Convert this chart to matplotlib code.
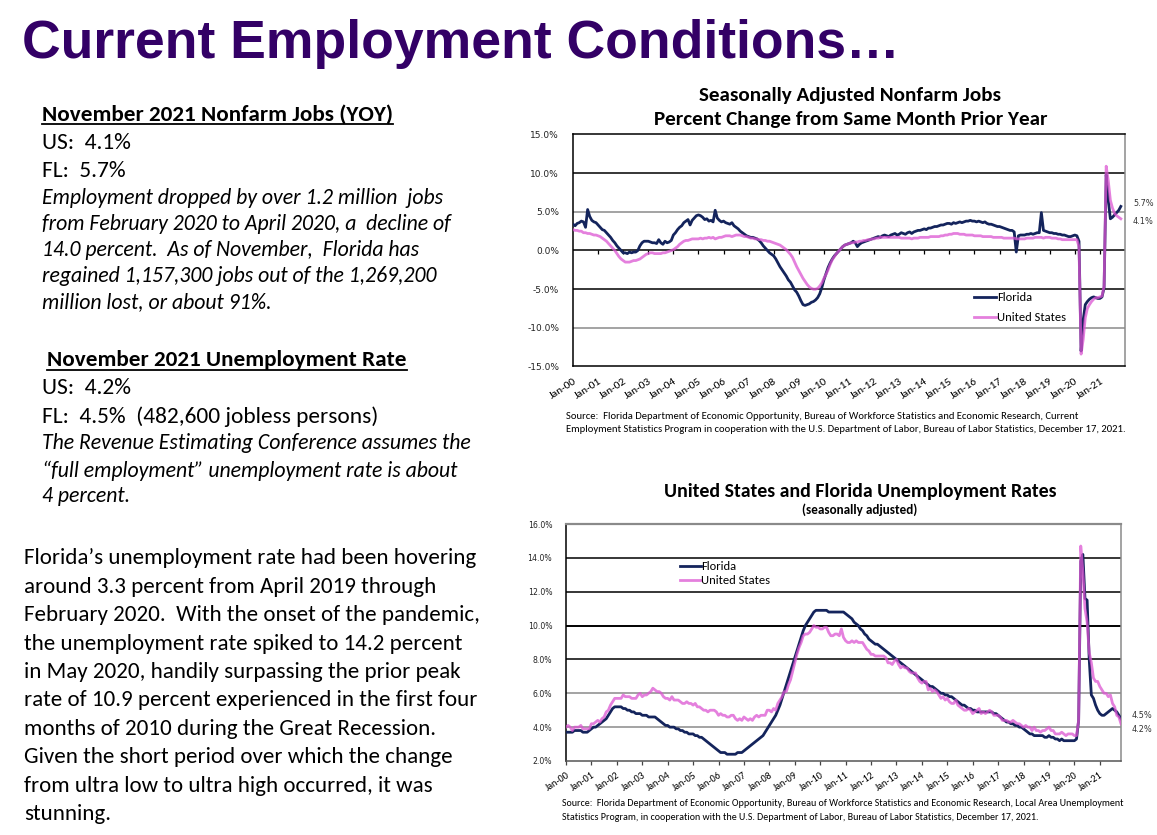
import numpy as np
import matplotlib
matplotlib.use("Agg")
import matplotlib.pyplot as plt
from matplotlib.lines import Line2D
from matplotlib import font_manager as fm

# ---------------- data ----------------
tick_labels = ["Jan-%02d" % y for y in range(0, 22)]

fl_jobs = [
    3.4, 3.2, 3.5, 3.6, 3.8, 3.7, 3.0, 5.3, 4.4, 3.9, 3.7, 3.6,      # 2000
    3.3, 3.0, 2.7, 2.6, 2.3, 2.0, 1.7, 1.3, 1.0, 0.6, 0.3, 0.0,      # 2001
    -0.3, -0.3, -0.4, -0.2, -0.3, -0.2, -0.2, 0.0, 0.6, 1.0, 1.2, 1.2,  # 2002
    1.2, 1.1, 1.0, 1.0, 0.9, 1.4, 1.0, 0.8, 1.2, 1.0, 1.1, 1.3,      # 2003
    2.0, 2.3, 2.7, 3.0, 3.2, 3.6, 3.8, 4.0, 3.3, 3.9, 4.2, 4.5,      # 2004
    4.6, 4.5, 4.3, 4.0, 4.1, 3.8, 3.9, 3.7, 5.2, 4.2, 3.9, 3.7,      # 2005
    3.8, 3.6, 3.5, 3.4, 3.6, 3.2, 3.0, 2.8, 2.5, 2.3, 2.1, 1.9,      # 2006
    1.8, 1.7, 1.7, 1.6, 1.5, 1.3, 1.0, 0.6, 0.3, 0.0, -0.3, -0.5,    # 2007
    -0.7, -1.1, -1.6, -2.1, -2.5, -2.9, -3.3, -3.8, -4.1, -4.6, -5.1, -5.4,  # 2008
    -5.9, -6.5, -7.0, -7.1, -7.0, -6.9, -6.7, -6.6, -6.4, -6.1, -5.6, -4.8,  # 2009
    -3.8, -3.0, -2.2, -1.6, -1.1, -0.7, -0.4, -0.1, 0.2, 0.5, 0.7, 0.8,      # 2010
    0.9, 1.0, 1.2, 1.0, 0.5, 0.8, 1.0, 1.1, 1.2, 1.3, 1.4, 1.5,      # 2011
    1.6, 1.7, 1.8, 1.7, 1.9, 2.0, 1.9, 1.8, 2.0, 2.1, 2.2, 2.0,      # 2012
    2.1, 2.3, 2.2, 2.1, 2.3, 2.4, 2.2, 2.4, 2.5, 2.6, 2.6, 2.7,      # 2013
    2.8, 2.7, 2.9, 2.9, 3.0, 3.1, 3.1, 3.2, 3.3, 3.3, 3.4, 3.5,      # 2014
    3.5, 3.4, 3.6, 3.5, 3.6, 3.7, 3.6, 3.7, 3.8, 3.8, 3.9, 3.8,      # 2015
    3.8, 3.7, 3.8, 3.7, 3.6, 3.7, 3.5, 3.4, 3.4, 3.3, 3.2, 3.1,      # 2016
    3.1, 3.0, 2.9, 2.8, 2.7, 2.6, 2.6, 2.4, -0.2, 1.9, 2.0, 2.0,     # 2017
    2.0, 2.1, 2.1, 2.2, 2.1, 2.2, 2.3, 2.3, 4.9, 2.6, 2.5, 2.4,      # 2018
    2.3, 2.3, 2.2, 2.2, 2.1, 2.1, 2.0, 2.0, 1.9, 1.8, 1.8, 1.9,      # 2019
    2.0, 1.9, 1.2, -13.0, -9.0, -7.0, -6.6, -6.3, -6.1, -6.0, -6.1, -6.2,  # 2020
    -6.2, -6.0, -4.8, 9.8, 6.5, 4.1, 4.3, 4.6, 4.9, 5.2, 5.7,        # 2021
]

us_jobs = [
    2.7, 2.6, 2.6, 2.5, 2.5, 2.3, 2.3, 2.2, 2.2, 2.1, 2.0, 2.0,      # 2000
    1.9, 1.8, 1.6, 1.4, 1.2, 0.9, 0.6, 0.3, 0.0, -0.4, -0.8, -1.1,   # 2001
    -1.3, -1.5, -1.5, -1.5, -1.4, -1.3, -1.3, -1.2, -1.1, -0.9, -0.7, -0.5,  # 2002
    -0.4, -0.3, -0.3, -0.4, -0.4, -0.4, -0.4, -0.3, -0.3, -0.2, -0.1, 0.0,   # 2003
    0.1, 0.3, 0.5, 0.8, 1.0, 1.2, 1.3, 1.3, 1.4, 1.5, 1.5, 1.5,      # 2004
    1.5, 1.6, 1.5, 1.6, 1.6, 1.7, 1.6, 1.7, 1.5, 1.6, 1.7, 1.7,      # 2005
    1.8, 1.9, 1.9, 1.9, 1.8, 1.9, 2.0, 2.0, 2.0, 1.9, 1.8, 1.8,      # 2006
    1.7, 1.6, 1.6, 1.5, 1.5, 1.4, 1.4, 1.3, 1.3, 1.2, 1.2, 1.1,      # 2007
    1.0, 0.9, 0.8, 0.7, 0.5, 0.3, 0.1, -0.2, -0.5, -0.9, -1.5, -2.1, # 2008
    -2.6, -3.1, -3.6, -4.0, -4.4, -4.7, -4.9, -5.0, -5.0, -4.9, -4.6, -4.2,  # 2009
    -3.6, -3.1, -2.5, -1.8, -1.2, -0.8, -0.4, -0.1, 0.2, 0.5, 0.7, 0.8,      # 2010
    0.9, 1.0, 1.0, 1.1, 1.1, 1.2, 1.2, 1.3, 1.3, 1.4, 1.4, 1.5,      # 2011
    1.5, 1.6, 1.6, 1.7, 1.7, 1.7, 1.7, 1.7, 1.7, 1.7, 1.7, 1.7,      # 2012
    1.7, 1.6, 1.6, 1.6, 1.6, 1.6, 1.5, 1.6, 1.6, 1.6, 1.7, 1.7,      # 2013
    1.7, 1.7, 1.7, 1.8, 1.8, 1.8, 1.8, 1.8, 1.9, 1.9, 2.0, 2.0,      # 2014
    2.1, 2.1, 2.2, 2.2, 2.2, 2.1, 2.1, 2.1, 2.0, 2.0, 2.0, 2.0,      # 2015
    1.9, 1.9, 1.9, 1.9, 1.8, 1.8, 1.8, 1.8, 1.8, 1.7, 1.7, 1.7,      # 2016
    1.7, 1.7, 1.6, 1.6, 1.6, 1.6, 1.6, 1.6, 1.5, 1.5, 1.5, 1.5,      # 2017
    1.5, 1.6, 1.6, 1.6, 1.6, 1.7, 1.7, 1.7, 1.7, 1.6, 1.7, 1.7,      # 2018
    1.7, 1.6, 1.6, 1.6, 1.5, 1.5, 1.4, 1.4, 1.4, 1.4, 1.4, 1.4,      # 2019
    1.4, 1.4, 0.5, -13.4, -11.5, -8.7, -7.5, -7.0, -6.6, -6.3, -6.1, -6.1,  # 2020
    -6.0, -5.9, -4.6, 10.9, 9.0, 6.5, 5.5, 4.8, 4.5, 4.3, 4.1,       # 2021
]

fl_ur = [
    3.7, 3.7, 3.7, 3.7, 3.8, 3.8, 3.8, 3.8, 3.7, 3.7, 3.7, 3.8,      # 2000
    3.9, 4.0, 4.0, 4.1, 4.2, 4.3, 4.4, 4.5, 4.7, 4.9, 5.1, 5.2,      # 2001
    5.2, 5.2, 5.2, 5.1, 5.1, 5.0, 5.0, 4.9, 4.9, 4.8, 4.8, 4.8,      # 2002
    4.7, 4.7, 4.7, 4.6, 4.6, 4.6, 4.6, 4.5, 4.4, 4.3, 4.2, 4.1,      # 2003
    4.1, 4.0, 4.0, 4.0, 3.9, 3.9, 3.8, 3.8, 3.7, 3.7, 3.6, 3.6,      # 2004
    3.6, 3.5, 3.5, 3.4, 3.4, 3.3, 3.2, 3.1, 3.0, 2.9, 2.8, 2.7,      # 2005
    2.6, 2.5, 2.5, 2.5, 2.4, 2.4, 2.4, 2.4, 2.4, 2.5, 2.5, 2.5,      # 2006
    2.6, 2.7, 2.8, 2.9, 3.0, 3.1, 3.2, 3.3, 3.4, 3.5, 3.7, 3.9,      # 2007
    4.1, 4.3, 4.5, 4.7, 5.0, 5.3, 5.7, 6.1, 6.5, 6.9, 7.3, 7.7,      # 2008
    8.1, 8.5, 8.9, 9.3, 9.7, 10.0, 10.2, 10.4, 10.6, 10.8, 10.9, 10.9,  # 2009
    10.9, 10.9, 10.9, 10.9, 10.8, 10.8, 10.8, 10.8, 10.8, 10.8, 10.8, 10.8,  # 2010
    10.7, 10.6, 10.5, 10.4, 10.2, 10.1, 10.0, 9.8, 9.7, 9.5, 9.4, 9.2,  # 2011
    9.1, 9.0, 8.9, 8.9, 8.8, 8.7, 8.6, 8.5, 8.4, 8.3, 8.2, 8.1,      # 2012
    8.0, 7.9, 7.8, 7.7, 7.6, 7.5, 7.4, 7.3, 7.2, 7.1, 7.0, 6.9,      # 2013
    6.8, 6.7, 6.6, 6.5, 6.4, 6.4, 6.3, 6.2, 6.1, 6.0, 6.0, 5.9,      # 2014
    5.9, 5.8, 5.8, 5.7, 5.6, 5.5, 5.4, 5.3, 5.3, 5.2, 5.1, 5.1,      # 2015
    5.0, 5.0, 4.9, 4.9, 4.9, 4.9, 4.9, 4.9, 4.9, 4.9, 4.8, 4.8,      # 2016
    4.7, 4.6, 4.5, 4.4, 4.3, 4.3, 4.2, 4.2, 4.1, 4.1, 4.0, 4.0,      # 2017
    3.9, 3.8, 3.7, 3.6, 3.6, 3.5, 3.5, 3.5, 3.5, 3.5, 3.4, 3.4,      # 2018
    3.5, 3.4, 3.4, 3.3, 3.3, 3.2, 3.3, 3.2, 3.2, 3.2, 3.2, 3.2,      # 2019
    3.2, 3.3, 4.4, 13.8, 14.2, 11.6, 11.5, 8.0, 5.9, 5.7, 5.3, 5.0,  # 2020
    4.8, 4.7, 4.7, 4.8, 4.9, 5.0, 5.1, 5.0, 4.9, 4.7, 4.5,           # 2021
]

us_ur = [
    4.0, 4.1, 4.0, 3.8, 4.0, 4.0, 4.0, 4.1, 3.9, 3.9, 3.9, 3.9,      # 2000
    4.2, 4.2, 4.3, 4.4, 4.3, 4.5, 4.6, 4.9, 5.0, 5.3, 5.5, 5.7,      # 2001
    5.7, 5.7, 5.7, 5.9, 5.8, 5.8, 5.8, 5.7, 5.7, 5.7, 5.9, 6.0,      # 2002
    5.8, 5.9, 5.9, 6.0, 6.1, 6.3, 6.2, 6.1, 6.1, 6.0, 5.8, 5.7,      # 2003
    5.7, 5.6, 5.8, 5.6, 5.6, 5.6, 5.5, 5.4, 5.4, 5.5, 5.4, 5.4,      # 2004
    5.3, 5.4, 5.2, 5.2, 5.1, 5.0, 5.0, 4.9, 5.0, 5.0, 5.0, 4.9,      # 2005
    4.7, 4.8, 4.7, 4.7, 4.6, 4.6, 4.7, 4.7, 4.5, 4.4, 4.5, 4.4,      # 2006
    4.6, 4.5, 4.4, 4.5, 4.4, 4.6, 4.7, 4.6, 4.7, 4.7, 4.7, 5.0,      # 2007
    5.0, 4.9, 5.1, 5.0, 5.4, 5.6, 5.8, 6.1, 6.1, 6.5, 6.8, 7.3,      # 2008
    7.8, 8.3, 8.7, 9.0, 9.4, 9.5, 9.5, 9.6, 9.8, 10.0, 9.9, 9.9,     # 2009
    9.8, 9.8, 9.9, 9.9, 9.6, 9.4, 9.4, 9.5, 9.5, 9.4, 9.8, 9.3,      # 2010
    9.1, 9.0, 9.0, 9.1, 9.0, 9.1, 9.0, 9.0, 9.0, 8.8, 8.6, 8.5,      # 2011
    8.3, 8.3, 8.2, 8.2, 8.2, 8.2, 8.2, 8.1, 7.8, 7.8, 7.7, 7.9,      # 2012
    8.0, 7.7, 7.5, 7.6, 7.5, 7.5, 7.3, 7.2, 7.2, 7.2, 6.9, 6.7,      # 2013
    6.6, 6.7, 6.7, 6.2, 6.3, 6.1, 6.2, 6.1, 5.9, 5.7, 5.8, 5.6,      # 2014
    5.7, 5.5, 5.4, 5.4, 5.6, 5.3, 5.2, 5.1, 5.0, 5.0, 5.1, 5.0,      # 2015
    4.8, 4.9, 5.0, 5.1, 4.8, 4.9, 4.8, 4.9, 5.0, 4.9, 4.7, 4.7,      # 2016
    4.7, 4.6, 4.4, 4.4, 4.4, 4.3, 4.3, 4.4, 4.3, 4.2, 4.2, 4.1,      # 2017
    4.0, 4.1, 4.0, 4.0, 3.8, 4.0, 3.8, 3.8, 3.7, 3.8, 3.8, 3.9,      # 2018
    4.0, 3.8, 3.8, 3.6, 3.6, 3.6, 3.7, 3.6, 3.5, 3.6, 3.6, 3.6,      # 2019
    3.5, 3.5, 4.4, 14.7, 13.2, 11.0, 10.2, 8.4, 7.8, 6.9, 6.7, 6.7,  # 2020
    6.4, 6.2, 6.0, 6.0, 5.8, 5.9, 5.4, 5.2, 4.7, 4.6, 4.2,           # 2021
]

jobs_yticks = [-15, -10, -5, 0, 5, 10, 15]
ur_yticks = [2, 4, 6, 8, 10, 12, 14, 16]

# ---------------- styling ----------------
W, H = 1157, 835
NAVY = "#14245c"
PINK = "#dc55d2"
GRAY = "#8a8a8a"
TITLE_C = "#330066"

avail = {f.name for f in fm.fontManager.ttflist}


def pick(*names):
    for n in names:
        if n in avail:
            return n
    return "DejaVu Sans"


CAL = pick("Carlito", "Calibri", "Lato", "Open Sans")
NARROW = pick("Liberation Sans Narrow", "Arial Narrow", "Liberation Sans", "Arial")
TICKF = pick("DejaVu Sans", "Verdana")

fig = plt.figure(figsize=(W / 100, H / 100), dpi=100)
fig.patch.set_facecolor("white")
renderer = fig.canvas.get_renderer()


def fx(x):
    return x / W


def fy(y):
    return 1 - y / H


def fit(text, target, **kw):
    t = fig.text(0, 0, text, fontsize=10, **kw)
    w = t.get_window_extent(renderer).width
    t.remove()
    return 10.0 * target / w


def underline(t, ypix, color="black", lw=1.3):
    bb = t.get_window_extent(renderer)
    fig.add_artist(Line2D([bb.x0 / W, bb.x1 / W], [fy(ypix), fy(ypix)],
                          transform=fig.transFigure, color=color, lw=lw))


# ---------------- slide title ----------------
title = "Current Employment Conditions\u2026"
ts = fit(title, 877, family=NARROW, weight="bold")
fig.text(fx(22), fy(58), title, fontsize=ts, family=NARROW, weight="bold",
         color=TITLE_C, va="baseline")

# ---------------- left text block ----------------
h1 = "November 2021 Nonfarm Jobs (YOY)"
hs = fit(h1, 350, family=CAL, weight="bold")
t = fig.text(fx(42), fy(120.7), h1, fontsize=hs, family=CAL, weight="bold", va="baseline")
underline(t, 124)

reg_lines_1 = [("US:  4.1%", 149.3), ("FL:  5.7%", 177.3)]
rs = fit("FL:  4.5%  (482,600 jobless persons)", 336, family=CAL)
for s, yb in reg_lines_1:
    fig.text(fx(42), fy(yb), s, fontsize=rs, family=CAL, va="baseline")

ital_1 = [
    ("Employment dropped by over 1.2 million  jobs", 204.0),
    ("from February 2020 to April 2020, a  decline of", 229.5),
    ("14.0 percent.  As of November,  Florida has", 256.5),
    ("regained 1,157,300 jobs out of the 1,269,200", 282.5),
    ("million lost, or about 91%.", 308.3),
]
its = fit("The Revenue Estimating Conference assumes the", 428, family=CAL, style="italic")
for s, yb in ital_1:
    fig.text(fx(42), fy(yb), s, fontsize=its, family=CAL, style="italic", va="baseline")

h2 = "November 2021 Unemployment Rate"
t = fig.text(fx(47), fy(366), h2, fontsize=hs, family=CAL, weight="bold", va="baseline")
underline(t, 369.5)

for s, yb in [("US:  4.2%", 394.0), ("FL:  4.5%  (482,600 jobless persons)", 423.3)]:
    fig.text(fx(42), fy(yb), s, fontsize=rs, family=CAL, va="baseline")

ital_2 = [
    ("The Revenue Estimating Conference assumes the", 449.3),
    ("\u201cfull employment\u201d unemployment rate is about", 476.7),
    ("4 percent.", 501.7),
]
for s, yb in ital_2:
    fig.text(fx(42), fy(yb), s, fontsize=its, family=CAL, style="italic", va="baseline")

para = [
    "Florida\u2019s unemployment rate had been hovering",
    "around 3.3 percent from April 2019 through",
    "February 2020.  With the onset of the pandemic,",
    "the unemployment rate spiked to 14.2 percent",
    "in May 2020, handily surpassing the prior peak",
    "rate of 10.9 percent experienced in the first four",
    "months of 2010 during the Great Recession.",
    "Given the short period over which the change",
    "from ultra low to ultra high occurred, it was",
    "stunning.",
]
ps = fit(para[0], 454, family=CAL)
for i, s in enumerate(para):
    fig.text(fx(24), fy(564.3 + i * 28.4), s, fontsize=ps, family=CAL, va="baseline")

# ---------------- top chart ----------------
x1 = np.arange(len(fl_jobs))
ax1 = fig.add_axes([fx(573), fy(366.5), (1125 - 573) / W, (366.5 - 134.5) / H])
for v, c in [(10, "black"), (5, GRAY), (0, "black"), (-5, "black"), (-10, GRAY)]:
    ax1.axhline(v, color=c, lw=1.1, zorder=1)
ax1.vlines(np.arange(12, 253, 12), -0.5, 0, color="black", lw=0.9, zorder=1)
ax1.plot(x1, fl_jobs, color=NAVY, lw=2.0, label="Florida", zorder=3, solid_joinstyle="round")
ax1.plot(x1, us_jobs, color=PINK, lw=2.0, alpha=0.75, label="United States", zorder=4,
         solid_joinstyle="round")
ax1.set_xlim(0, 264)
ax1.set_ylim(-15, 15)
ax1.set_yticks(jobs_yticks)
ax1.set_yticklabels(["%.1f%%" % v for v in jobs_yticks], fontsize=6.5, family=TICKF, color="#222222")
ax1.tick_params(axis="y", length=0, pad=10)
ax1.set_xticks(np.arange(0, 253, 12))
ax1.set_xticklabels(tick_labels, rotation=33, ha="right", rotation_mode="anchor",
                    fontsize=8.2, family=CAL)
ax1.tick_params(axis="x", length=0, pad=7)
for side, c in [("top", "black"), ("bottom", "black"), ("left", "black"), ("right", GRAY)]:
    ax1.spines[side].set_color(c)
    ax1.spines[side].set_linewidth(1.1)
ax1.legend(loc="upper left", bbox_to_anchor=((974 - 573) / 552, (366.5 - 292.5) / 232),
           frameon=False, prop={"family": CAL, "size": 9.0}, handlelength=1.75,
           handletextpad=0.1, labelspacing=0.72, borderaxespad=0, borderpad=0)

fig.text(fx(1133), fy(204), "5.7%", fontsize=5.9, family=TICKF, va="center", color="#333333")
fig.text(fx(1133), fy(222), "4.1%", fontsize=5.9, family=TICKF, va="center", color="#333333")

t1a = "Seasonally Adjusted Nonfarm Jobs"
t1b = "Percent Change from Same Month Prior Year"
cts = fit(t1b, 394, family=CAL, weight="bold")
fig.text(fx(850), fy(95), t1a, fontsize=cts, family=CAL, weight="bold", ha="center", va="center")
fig.text(fx(851), fy(119), t1b, fontsize=cts, family=CAL, weight="bold", ha="center", va="center")

src1 = ["Source:  Florida Department of Economic Opportunity, Bureau of Workforce Statistics and Economic Research, Current",
        "Employment Statistics Program in cooperation with the U.S. Department of Labor, Bureau of Labor Statistics, December 17, 2021."]
ss = fit(src1[1], 564, family=CAL)
fig.text(fx(566), fy(416), src1[0], fontsize=ss, family=CAL, va="center")
fig.text(fx(566), fy(430), src1[1], fontsize=ss, family=CAL, va="center")

# ---------------- bottom chart ----------------
x2 = np.arange(len(fl_ur))
ax2 = fig.add_axes([fx(566), fy(761), (1121 - 566) / W, (761 - 524) / H])
for v, c in [(14, "black"), (12, "black"), (10, "black"), (8, "black"), (6, GRAY), (4, GRAY)]:
    ax2.axhline(v, color=c, lw=1.4 if v == 10 else 1.1, zorder=1)
ax2.plot(x2, fl_ur, color=NAVY, lw=2.0, label="Florida", zorder=3, solid_joinstyle="round")
ax2.plot(x2, us_ur, color=PINK, lw=2.0, alpha=0.75, label="United States", zorder=4,
         solid_joinstyle="round")
ax2.set_xlim(0, 262)
ax2.set_ylim(2, 16)
ax2.set_yticks(ur_yticks)
ax2.set_yticklabels(["%.1f%%" % v for v in ur_yticks], fontsize=5.6, family=TICKF, color="#222222")
ax2.tick_params(axis="y", length=0, pad=10)
ax2.set_xticks(np.arange(0, 253, 12))
ax2.set_xticklabels(tick_labels, rotation=33, ha="right", rotation_mode="anchor",
                    fontsize=7.2, family=CAL)
ax2.tick_params(axis="x", length=3, width=0.9, direction="out", pad=4, color="#444444")
for side, c in [("top", GRAY), ("bottom", "#555555"), ("left", "black"), ("right", GRAY)]:
    ax2.spines[side].set_color(c)
    ax2.spines[side].set_linewidth(1.1)
ax2.spines["top"].set_linewidth(1.6)
ax2.legend(loc="upper left", bbox_to_anchor=((680 - 566) / 555, (761 - 561.5) / 237),
           frameon=False, prop={"family": CAL, "size": 9.0}, handlelength=1.65,
           handletextpad=0.05, labelspacing=0.2, borderaxespad=0, borderpad=0)

fig.text(fx(1132), fy(716), "4.5%", fontsize=5.9, family=TICKF, va="center", color="#333333")
fig.text(fx(1132), fy(730), "4.2%", fontsize=5.9, family=TICKF, va="center", color="#333333")

t2a = "United States and Florida Unemployment Rates"
t2b = "(seasonally adjusted)"
fig.text(fx(860), fy(491), t2a, fontsize=fit(t2a, 393, family=CAL, weight="bold"),
         family=CAL, weight="bold", ha="center", va="center")
fig.text(fx(860), fy(510), t2b, fontsize=fit(t2b, 115, family=CAL, weight="bold"),
         family=CAL, weight="bold", ha="center", va="center")

src2 = ["Source:  Florida Department of Economic Opportunity, Bureau of Workforce Statistics and Economic Research, Local Area Unemployment",
        "Statistics Program, in cooperation with the U.S. Department of Labor, Bureau of Labor Statistics, December 17, 2021."]
ss2 = fit(src2[0], 558, family=CAL)
fig.text(fx(562), fy(803), src2[0], fontsize=ss2, family=CAL, va="center")
fig.text(fx(562), fy(817), src2[1], fontsize=ss2, family=CAL, va="center")

fig.savefig("out.png", dpi=100, facecolor="white")
